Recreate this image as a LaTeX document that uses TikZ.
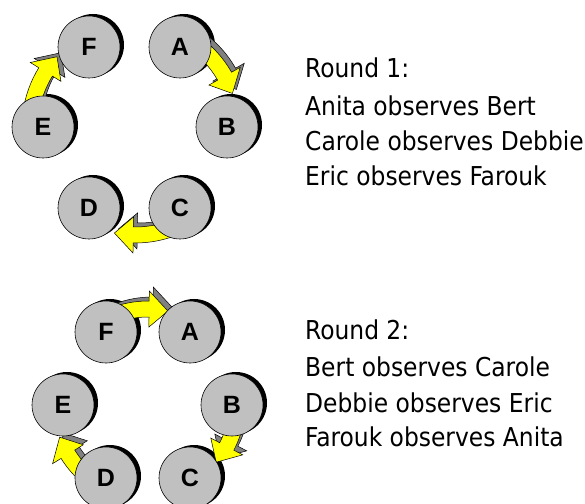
\documentclass[tikz,border=0pt]{standalone}
\usepackage{fontspec}
\setmainfont{DejaVu Sans Condensed}
\newfontfamily\labelfont{Liberation Sans}
\usetikzlibrary{calc}

\definecolor{personfill}{HTML}{C0C0C0}
\definecolor{arrowyellow}{HTML}{FFFF00}
\definecolor{arrowgrey}{HTML}{808080}

\tikzset{
  person/.style={circle, draw=black, line width=0.6pt, fill=personfill,
    minimum size=62pt, inner sep=0pt,
    font=\labelfont\bfseries\fontsize{25}{25}\selectfont},
  personshade/.style={circle, fill=black, minimum size=62pt, inner sep=0pt},
  caption/.style={anchor=base west, inner sep=0pt,
    font=\fontsize{26}{26}\selectfont},
  front/.style={fill=arrowyellow, draw=black, line width=0.5pt},
  back/.style={fill=arrowgrey, draw=black, line width=0.5pt},
}

% curved block arrow running clockwise round a ring centre
% #1 centre, #2 radius, #3 tail angle, #4 tip angle
\newcommand{\ringarrow}[4]{%
  \pgfmathsetmacro{\ra}{#2+8}%
  \pgfmathsetmacro{\rb}{#2-8}%
  \pgfmathsetmacro{\rc}{#2+18}%
  \pgfmathsetmacro{\rd}{#2-18}%
  \pgfmathsetmacro{\hb}{#4+19/#2*57.3}%
  \foreach \sty/\dx in {back/4, front/0}{%
    \path[\sty, shift={(#1)}, shift={(\dx pt,\dx pt)}]
      (#3:\ra pt) arc[start angle=#3, end angle=\hb, radius=\ra pt]
      -- (\hb:\rc pt) -- (#4:#2 pt) -- (\hb:\rd pt) -- (\hb:\rb pt)
      arc[start angle=\hb, end angle=#3, radius=\rb pt] -- cycle;
  }%
}

\begin{document}
\begin{tikzpicture}[x=1pt, y=1pt]
  \useasboundingbox (0,0) rectangle (585,503);
  \clip (0,0) rectangle (585,503);

  % ring centres
  \coordinate (ringone) at (135,376);
  \coordinate (ringtwo) at (148,98);

  % person positions
  \foreach \n/\x/\y in {F1/89/456, A1/180/456, E1/43/376, B1/227/376, D1/89/295, C1/180/295,
                        F2/106/171, A2/190/171, E2/63/98, B2/232/98, D2/106/25, C2/190/25}{
    \coordinate (\n) at (\x,\y);
    \node[personshade] at ($(\n)+(4,2)$) {};
  }

  % round 1 arrows
  \ringarrow{ringone}{103}{58}{19}
  \ringarrow{ringone}{108}{-62}{-101}
  \ringarrow{ringone}{105}{172}{138}

  % round 2 arrows
  \ringarrow{ringtwo}{96}{112}{78}
  \ringarrow{ringtwo}{89}{-8}{-40}
  \ringarrow{ringtwo}{94}{-128}{-160}

  % persons
  \foreach \n/\t in {F1/F, A1/A, E1/E, B1/B, D1/D, C1/C,
                     F2/F, A2/A, E2/E, B2/B, D2/D, C2/C}{
    \node[person] (p\n) at (\n) {\t};
  }

  % captions
  \node[caption] (r1a) at (305,425.5) {Round 1:};
  \node[caption] (r1b) at (305,387.5) {Anita observes Bert};
  \node[caption] (r1c) at (305,352.5) {Carole observes Debbie};
  \node[caption] (r1d) at (305,317.5) {Eric observes Farouk};

  \node[caption] (r2a) at (305,163.5) {Round 2:};
  \node[caption] (r2b) at (305,126.5) {Bert observes Carole};
  \node[caption] (r2c) at (305,90.5) {Debbie observes Eric};
  \node[caption] (r2d) at (305,56.5) {Farouk observes Anita};
\end{tikzpicture}
\end{document}
